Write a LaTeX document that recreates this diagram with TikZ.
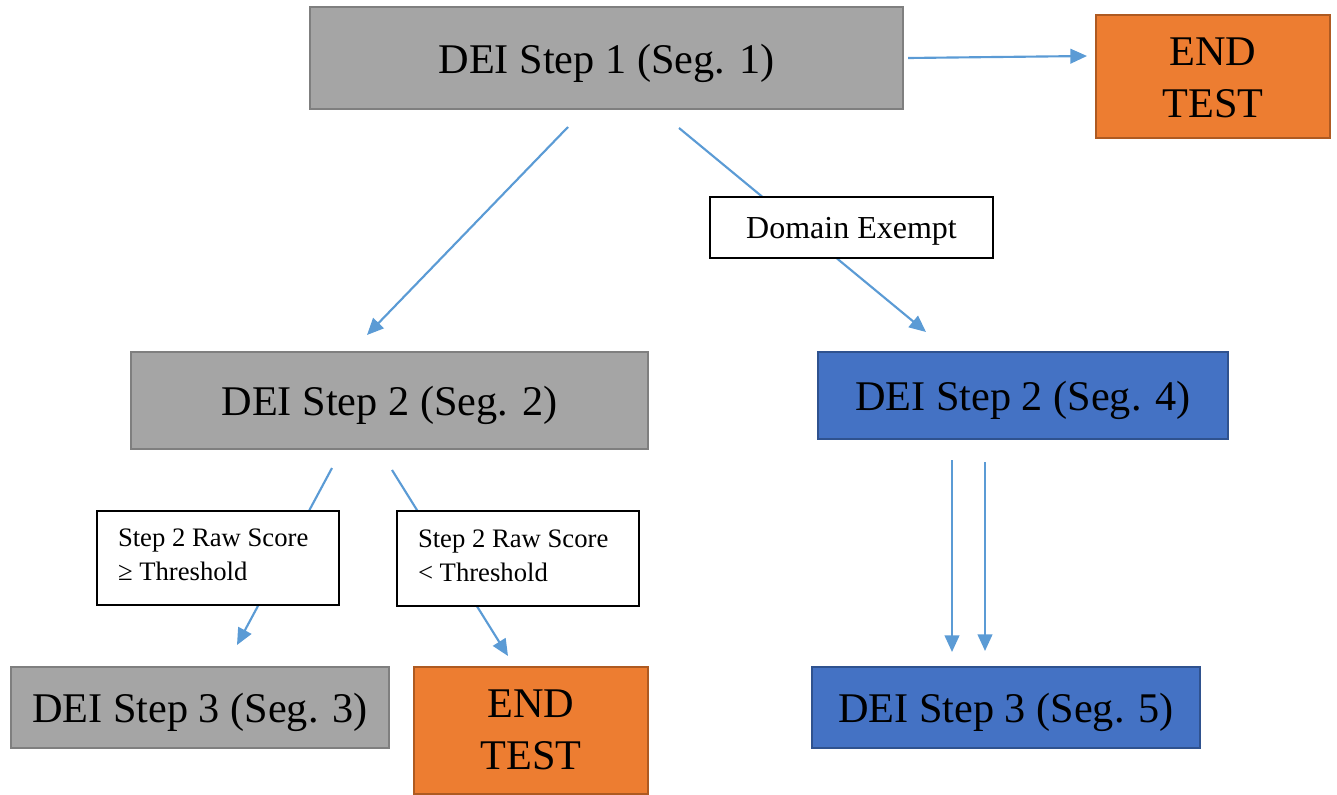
\documentclass[tikz,border=0pt]{standalone}
\usepackage{fontspec}
\setmainfont{Liberation Serif}
\usetikzlibrary{arrows.meta}
\definecolor{gfill}{HTML}{A5A5A5}
\definecolor{gline}{HTML}{7F7F7F}
\definecolor{ofill}{HTML}{ED7D31}
\definecolor{oline}{HTML}{AE5A21}
\definecolor{bfill}{HTML}{4472C4}
\definecolor{bline}{HTML}{2F528F}
\definecolor{arr}{HTML}{5B9BD5}
\newcommand\dn[2]{\raisebox{#1}[\height][\depth]{#2}}
\newcommand\stopbox[1]{\dn{#1}{\renewcommand\arraystretch{1.04}\begin{tabular}{@{}c@{}}END\\TEST\end{tabular}}}
\tikzset{
  big/.style={font=\fontsize{31.7}{38}\selectfont, align=center, inner sep=0pt, line width=1.5pt},
  graybox/.style={big, fill=gfill, draw=gline},
  orangebox/.style={big, fill=ofill, draw=oline},
  bluebox/.style={big, fill=bfill, draw=bline},
  lbl/.style={draw=black, fill=white, line width=1.2pt, inner sep=0pt},
  conn/.style={draw=arr, line width=1.6pt},
  tip/.style={-{Triangle[length=12.5pt,width=11pt]}}
}
\begin{document}
\begin{tikzpicture}[x=0.75pt,y=-0.75pt]
\useasboundingbox (0,0) rectangle (1337,795);
% main boxes
\node[graybox, minimum width=444.75pt, minimum height=76.5pt] (s1) at (606.5,58) {\dn{-3.75pt}{DEI Step 1 (Seg. 1)}};
\node[orangebox, minimum width=175.5pt, minimum height=92.25pt] (end1) at (1213,76.5) {\stopbox{-3.25pt}};
\node[graybox, minimum width=387.75pt, minimum height=72.75pt] (s2) at (389.5,400.5) {\dn{-3.75pt}{DEI Step 2 (Seg. 2)}};
\node[bluebox, minimum width=307.5pt, minimum height=65.25pt] (s4) at (1023,395.5) {\dn{-3.75pt}{DEI Step 2 (Seg. 4)}};
\node[graybox, minimum width=283.5pt, minimum height=60.75pt] (s3) at (200,707.5) {\dn{-3.75pt}{DEI Step 3 (Seg. 3)}};
\node[orangebox, minimum width=175.5pt, minimum height=95.25pt] (end2) at (531,730.5) {\stopbox{-1.75pt}};
\node[bluebox, minimum width=291pt, minimum height=60.75pt] (s5) at (1006,707.5) {\dn{-3.75pt}{DEI Step 3 (Seg. 5)}};
% connector end points
\coordinate (a1) at (908,58);   \coordinate (b1) at (1087,56);
\coordinate (a2) at (568,127);  \coordinate (b2) at (367,335);
\coordinate (a3) at (679,128);  \coordinate (b3) at (926,332);
\coordinate (a4) at (332,468);  \coordinate (b4) at (237,645);
\coordinate (a5) at (392,470);  \coordinate (b5) at (508,656);
\coordinate (a6) at (952,460);  \coordinate (b6) at (952,652);
\coordinate (a7) at (985,462);  \coordinate (b7) at (985,651);
% connectors
\draw[conn, tip] (a1) -- (b1);
\draw[conn, tip] (a2) -- (b2);
\draw[conn, tip] (a3) -- (b3);
\draw[conn, tip] (a4) -- (b4);
\draw[conn, tip] (a5) -- (b5);
\draw[conn, tip] (a6) -- (b6);
\draw[conn, tip] (a7) -- (b7);
% labels on connectors
\node[lbl, minimum width=212.25pt, minimum height=45.75pt, font=\fontsize{24}{28}\selectfont] (dex) at (851.5,227.5) {\dn{-3pt}{Domain Exempt}};
\node[lbl, minimum width=181.5pt, minimum height=70.5pt, font=\fontsize{20}{25.5}\selectfont] (lgeq) at (218,558)
  {\dn{2.25pt}{\begin{minipage}{150pt}\raggedright Step 2 Raw Score\\≥ Threshold\end{minipage}}};
\node[lbl, minimum width=181.5pt, minimum height=71.25pt, font=\fontsize{20}{25.5}\selectfont] (llt) at (518,558.5)
  {\dn{2.25pt}{\begin{minipage}{150pt}\raggedright Step 2 Raw Score\\< Threshold\end{minipage}}};
\end{tikzpicture}
\end{document}
